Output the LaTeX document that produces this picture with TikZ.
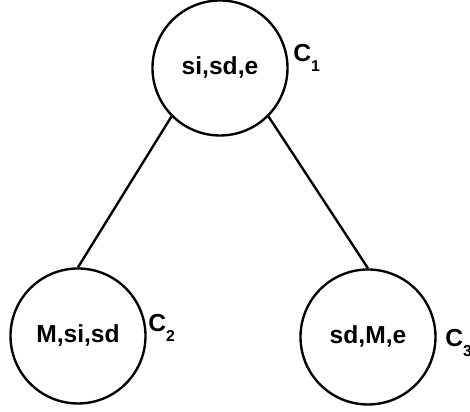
\documentclass[tikz,border=0pt]{standalone}
\usepackage{fontspec}
\setmainfont{Liberation Sans}
\usepackage{tikz}

\newcommand{\ctag}[1]{C\raisebox{-5.5pt}{\fontsize{9}{10}\selectfont #1}}

\begin{document}
\begin{tikzpicture}[ClusterNode/.style={circle, draw, line width=1.35pt, minimum size=2.7cm, inner sep=0pt, font=\fontsize{14}{16}\selectfont\bfseries},
ClusterTag/.style={anchor=base west, inner sep=0pt, font=\fontsize{14}{16}\selectfont\bfseries}]

\useasboundingbox (0,0) rectangle (9.4,8.24);

\node[ClusterNode] (c1) at (4.4,6.88) {si,sd,e};
\node[ClusterNode] (c2) at (1.56,1.52) {M,si,sd};
\node[ClusterNode] (c3) at (7.36,1.5) {sd,M,e};

\node[ClusterTag] (t1) at (5.86,7.0) {\ctag{1}};
\node[ClusterTag] (t2) at (2.96,1.6) {\ctag{2}};
\node[ClusterTag] (t3) at (8.9,1.3) {\ctag{3}};

\draw[line width=1.35pt] (c1.south west) -- (c2.north);
\draw[line width=1.35pt] (c1.south east) -- (c3.north);

\end{tikzpicture}
\end{document}
